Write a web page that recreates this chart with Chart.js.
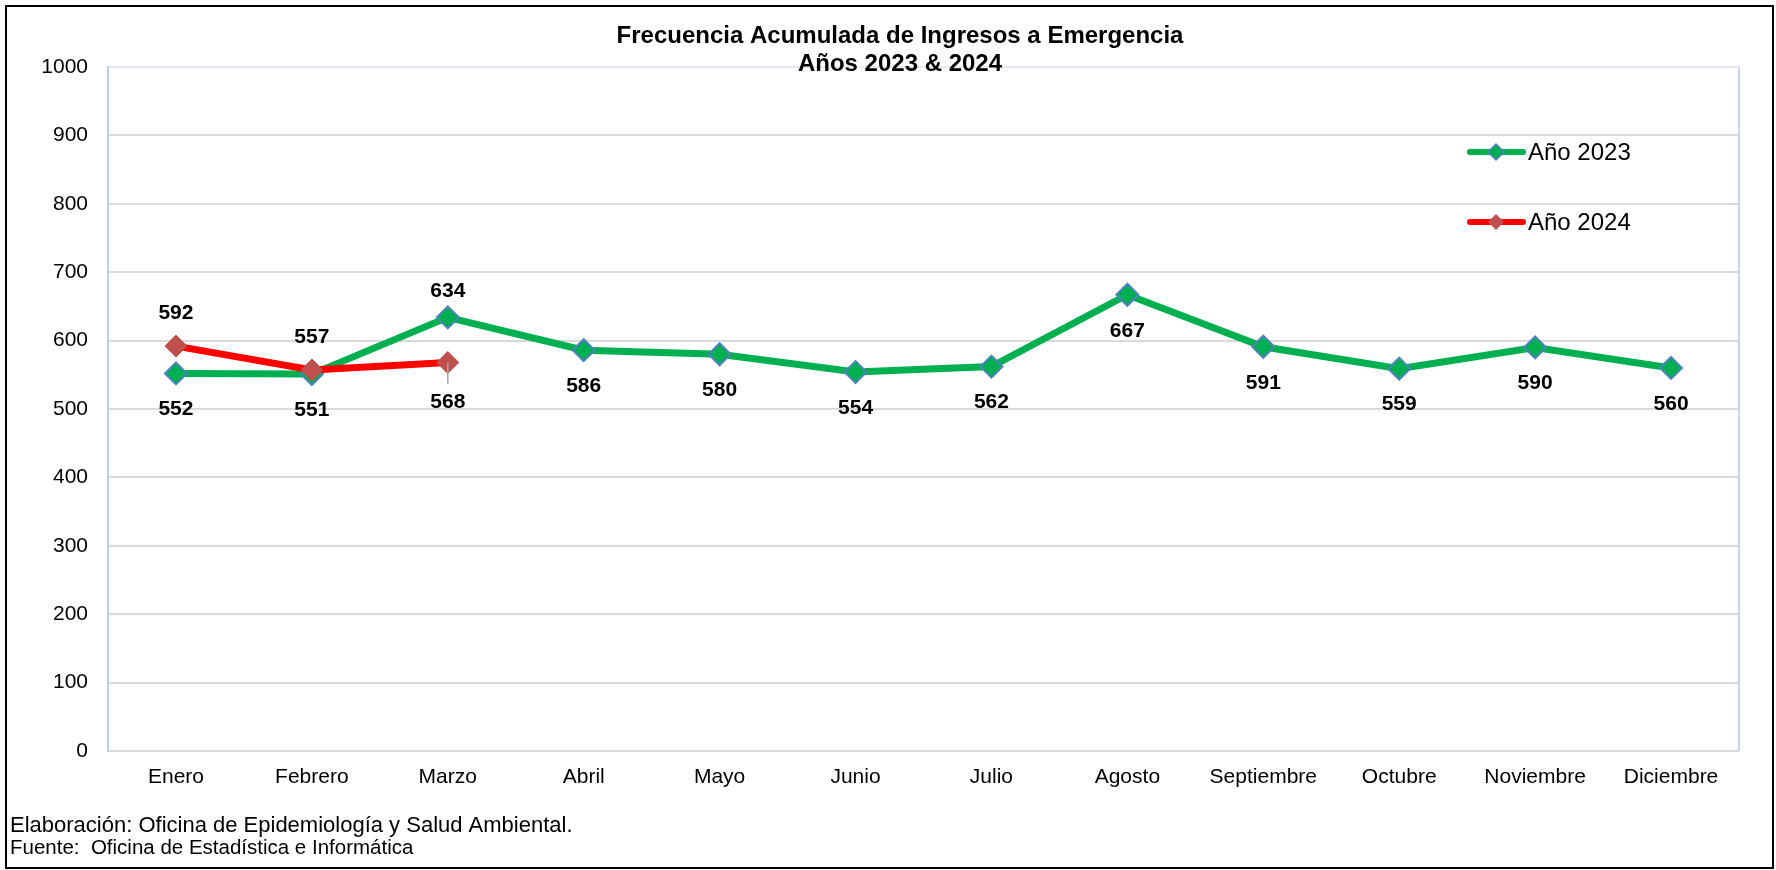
<!DOCTYPE html>
<html>
<head>
<meta charset="utf-8">
<script src="https://cdn.jsdelivr.net/npm/chart.js@4.4.1/dist/chart.umd.min.js"></script>
<style>
  html, body { margin: 0; padding: 0; background: #fff; }
  #wrap { width: 1776px; height: 870px; }
</style>
</head>
<body>
<div id="wrap"><canvas id="myChart" width="1776" height="870"></canvas></div>
<script>
// data
const months = ["Enero", "Febrero", "Marzo", "Abril", "Mayo", "Junio", "Julio",
                "Agosto", "Septiembre", "Octubre", "Noviembre", "Diciembre"];
const values2023 = [552, 551, 634, 586, 580, 554, 562, 667, 591, 559, 590, 560];
const values2024 = [592, 557, 568];
const yTicks = [0, 100, 200, 300, 400, 500, 600, 700, 800, 900, 1000];
const seriesNames = ["Año 2023", "Año 2024"];
const titleLines = ["Frecuencia Acumulada de Ingresos a Emergencia", "Años 2023 & 2024"];
const footerLines = ["Elaboración: Oficina de Epidemiología y Salud Ambiental.",
                     "Fuente:  Oficina de Estadística e Informática"];

// where each value label sits (above / below the marker)
const side2023 = ["b", "b", "a", "b", "b", "b", "b", "b", "b", "b", "b", "b"];
const side2024 = ["a", "a", "b"];

const FONT = "'Liberation Sans', Arial, sans-serif";
const GREEN = "#00B050", RED = "#FF0000";

function diamond(ctx, x, y, r, fill, stroke) {
    ctx.beginPath();
    ctx.moveTo(x, y - r);
    ctx.lineTo(x + r, y);
    ctx.lineTo(x, y + r);
    ctx.lineTo(x - r, y);
    ctx.closePath();
    ctx.fillStyle = fill;
    ctx.fill();
    if (stroke) { ctx.strokeStyle = stroke; ctx.lineWidth = 1.5; ctx.stroke(); }
}

const decorations = {
    id: "decorations",
    beforeDraw(chart) {
        const ctx = chart.ctx;
        ctx.save();
        ctx.fillStyle = "#fff";
        ctx.fillRect(0, 0, chart.width, chart.height);
        ctx.restore();
    },
    beforeDatasetsDraw(chart) {
        const { ctx, chartArea } = chart;
        ctx.save();
        ctx.strokeStyle = "#C6D6EC";
        ctx.lineWidth = 2;
        ctx.beginPath();
        ctx.moveTo(chartArea.right, chartArea.top);
        ctx.lineTo(chartArea.right, chartArea.bottom);
        ctx.stroke();
        ctx.restore();
    },
    afterDraw(chart) {
        const { ctx } = chart;
        ctx.save();

        // title
        ctx.fillStyle = "#000";
        ctx.textAlign = "center";
        ctx.textBaseline = "middle";
        ctx.font = "bold 24px " + FONT;
        ctx.fillText(titleLines[0], 900, 36);
        ctx.fillText(titleLines[1], 900, 64);

        // value labels
        ctx.font = "bold 21px " + FONT;
        const m23 = chart.getDatasetMeta(0), m24 = chart.getDatasetMeta(1);
        m23.data.forEach((pt, i) => {
            const dy = side2023[i] === "a" ? -26 : 36;
            ctx.fillText(String(values2023[i]), pt.x, pt.y + dy);
        });
        m24.data.forEach((pt, i) => {
            if (values2024[i] == null) return;
            if (side2024[i] === "a") {
                ctx.fillText(String(values2024[i]), pt.x, pt.y - 33);
            } else {
                ctx.strokeStyle = "#A6A6A6";
                ctx.lineWidth = 1.5;
                ctx.beginPath();
                ctx.moveTo(pt.x, pt.y);
                ctx.lineTo(pt.x, pt.y + 21);
                ctx.stroke();
                ctx.fillText(String(values2024[i]), pt.x, pt.y + 40);
            }
        });

        // legend
        const legendRows = [
            { y: 152, line: GREEN, fill: GREEN, stroke: "#4F81BD" },
            { y: 222, line: RED, fill: "#C0504D", stroke: null }
        ];
        ctx.font = "24px " + FONT;
        ctx.textAlign = "left";
        legendRows.forEach((row, i) => {
            ctx.strokeStyle = row.line;
            ctx.lineWidth = 6;
            ctx.lineCap = "round";
            ctx.beginPath();
            ctx.moveTo(1470, row.y);
            ctx.lineTo(1523, row.y);
            ctx.stroke();
            diamond(ctx, 1496, row.y, 8, row.fill, row.stroke);
            ctx.fillStyle = "#000";
            ctx.fillText(seriesNames[i], 1528, row.y + 1);
        });

        // footer
        ctx.font = "22px " + FONT;
        ctx.fillText(footerLines[0], 10, 826);
        ctx.font = "20.5px " + FONT;
        ctx.fillText(footerLines[1], 10, 848);

        // outer frame
        ctx.strokeStyle = "#000";
        ctx.lineWidth = 2;
        ctx.strokeRect(6, 6, 1767, 862);
        ctx.restore();
    }
};

new Chart(document.getElementById("myChart"), {
    type: "line",
    data: {
        labels: months,
        datasets: [
            {
                label: seriesNames[0],
                data: values2023,
                borderColor: GREEN,
                borderWidth: 7,
                backgroundColor: GREEN,
                pointStyle: "rectRot",
                pointRadius: 11,
                pointHoverRadius: 11,
                pointBackgroundColor: GREEN,
                pointBorderColor: "#4F81BD",
                pointBorderWidth: 2,
                tension: 0,
                order: 1
            },
            {
                label: seriesNames[1],
                data: values2024,
                borderColor: RED,
                borderWidth: 7,
                backgroundColor: "#C0504D",
                pointStyle: "rectRot",
                pointRadius: 11,
                pointHoverRadius: 11,
                pointBackgroundColor: "#C0504D",
                pointBorderColor: "#C0504D",
                pointBorderWidth: 1,
                tension: 0,
                order: 0
            }
        ]
    },
    options: {
        responsive: false,
        animation: false,
        devicePixelRatio: 1,
        events: [],
        layout: { padding: { top: 67, right: 37, left: 0, bottom: 0 } },
        plugins: {
            legend: { display: false },
            tooltip: { enabled: false }
        },
        scales: {
            x: {
                offset: true,
                grid: { display: false, drawTicks: false },
                border: { display: false },
                ticks: { color: "#000", font: { family: FONT, size: 21 }, padding: 14, maxRotation: 0, autoSkip: false },
                afterFit: (scale) => { scale.height = 119; }
            },
            y: {
                min: 0,
                max: 1000,
                afterBuildTicks: (scale) => { scale.ticks = yTicks.map(v => ({ value: v })); },
                grid: {
                    drawTicks: false,
                    lineWidth: 2,
                    color: (c) => (c.tick && c.tick.value === 1000 ? "#E3EAF4" : "#D9D9D9")
                },
                border: { color: "#B9CDE5", width: 2 },
                ticks: {
                    color: "#000",
                    font: { family: FONT, size: 21 },
                    padding: 20,
                    callback: (v) => String(v)
                },
                afterFit: (scale) => { scale.width = 108; }
            }
        }
    },
    plugins: [decorations]
});
</script>
</body>
</html>
